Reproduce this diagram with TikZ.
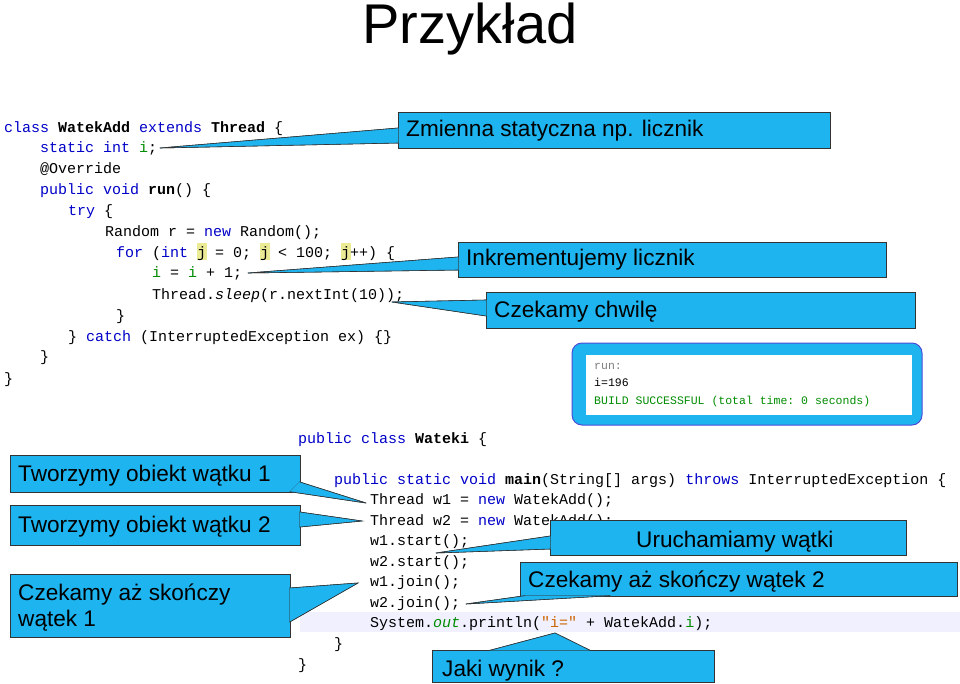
\documentclass[tikz,border=0pt]{standalone}
\usepackage{fontspec}
\setmainfont{Liberation Sans}
\setmonofont{Liberation Mono}
\begin{document}
\begin{tikzpicture}[x=1pt,y=-1pt,
  code/.style={anchor=base west,inner sep=0pt,font=\ttfamily\fontsize{15}{15}\selectfont},
  outtxt/.style={anchor=base west,inner sep=0pt,font=\ttfamily\fontsize{11.5}{11.5}\selectfont},
  box/.style={draw=black!80,fill=callblue,line width=0.6pt,inner sep=0pt},
  ctext/.style={anchor=base west,inner sep=0pt,font=\fontsize{22.6}{25}\selectfont,align=left},
  wedge/.style={fill=callblue,draw=black!80,line width=0.6pt,line join=round}]
\definecolor{callblue}{RGB}{30,180,240}
\definecolor{kw}{RGB}{0,0,200}
\definecolor{gr}{RGB}{0,140,0}
\definecolor{hl}{RGB}{235,235,150}
\useasboundingbox[fill=white] (0,0) rectangle (960,684);
\newcommand{\K}[1]{\textcolor{kw}{#1}}
\newcommand{\G}[1]{\textcolor{gr}{#1}}
% title
\node[font=\fontsize{56}{56}\selectfont,inner sep=0pt,anchor=base] (title) at (470,44) {Przykład};
% highlight band
\fill[blue!6] (300,612) rectangle (960,632);
% code block 1
\node[code] (c1) at (4,133) {\K{class} \textbf{WatekAdd} \K{extends} \textbf{Thread} \{};
\node[code] (c2) at (40,153) {\K{static} \K{int} \G{i};};
\node[code] (c3) at (40,174) {@Override};
\node[code] (c4) at (40,195) {\K{public} \K{void} \textbf{run}() \{};
\node[code] (c5) at (68,216) {\K{try} \{};
\node[code] (c6) at (105,237) {Random r = \K{new} Random();};
\fill[hl] (197,243) rectangle (207,260);
\fill[hl] (260,243) rectangle (270,260);
\fill[hl] (341,243) rectangle (351,260);
\node[code] (c7) at (116,258) {\K{for} (\K{int} j = 0; j < 100; j++) \{};
\node[code] (c8) at (152,278) {\G{i} = \G{i} + 1;};
\node[code] (c9) at (152,299) {Thread.\textit{sleep}(r.nextInt(10));};
\node[code] (c10) at (116,320) {\}};
\node[code] (c11) at (68,341) {\} \K{catch} (InterruptedException ex) \{\}};
\node[code] (c12) at (40,361) {\}};
\node[code] (c13) at (4,383) {\}};
% code block 2
\node[code] (d1) at (298,443) {\K{public} \K{class} \textbf{Wateki} \{};
\node[code] (d2) at (334,484) {\K{public} \K{static} \K{void} \textbf{main}(String[] args) \K{throws} InterruptedException \{};
\node[code] (d3) at (370,504) {Thread w1 = \K{new} WatekAdd();};
\node[code] (d4) at (370,525) {Thread w2 = \K{new} WatekAdd();};
\node[code] (d5) at (370,545) {w1.start();};
\node[code] (d6) at (370,566) {w2.start();};
\node[code] (d7) at (370,586) {w1.join();};
\node[code] (d8) at (370,607) {w2.join();};
\node[code] (d9) at (370,627) {System.\textit{\G{out}}.println(\textcolor{orange!80!black}{"i="} + WatekAdd.\G{i});};
\node[code] (d10) at (334,648) {\}};
\node[code] (d11) at (298,669) {\}};
% output window
\node[draw=kw!70,fill=callblue,rounded corners=10pt,line width=1pt,minimum width=350pt,minimum height=82pt] (win) at (747,384) {};
\node[fill=white,minimum width=326pt,minimum height=60pt,inner sep=0pt] (winin) at (749,385) {};
\node[outtxt,text=gray] (o1) at (594,369) {run:};
\node[outtxt] (o2) at (594,386) {i=196};
\node[outtxt,text=gr] (o3) at (594,404) {BUILD SUCCESSFUL (total time: 0 seconds)};
% callouts
\newcommand{\callout}[9]{%
  \node[box,minimum width=#3pt,minimum height=#4pt,anchor=north west] (#1) at (#2) {};
  \coordinate (#1t) at (#7);
  \draw[wedge] (#5) -- (#1t) -- (#6) -- cycle;
  \fill[callblue] (#5) -- (#1t) -- (#6) -- cycle;
  \draw[black!80,line width=0.6pt] (#5) -- (#1t) -- (#6);
  \node[ctext] at (#8) {#9};}
\callout{k1}{398,112}{432}{36}{398.3,128}{398.3,143}{160,148}{406,137}{Zmienna statyczna np. licznik}
\callout{k2}{458,242}{428}{35}{458.3,257}{458.3,270}{248,273}{466,266}{Inkrementujemy licznik}
\callout{k3}{486,292}{429}{36}{486.3,300}{486.3,316}{392,302}{494,317}{Czekamy chwilę}
\callout{k4}{10,455}{290}{37}{299.7,482}{290,491.7}{366,503}{18,481}{Tworzymy obiekt wątku 1}
\callout{k5}{10,505}{290}{40}{299.7,512}{299.7,527}{362,521}{18,532}{Tworzymy obiekt wątku 2}
\callout{k6}{10,574}{280}{63}{289.7,588}{289.7,622}{358,583}{18,600}{Czekamy aż skończy}
\node[ctext] (k6b) at (18,626) {wątek 1};
\callout{k7}{550,520}{356}{35}{550.3,536}{550.3,549}{436,553}{636,547}{Uruchamiamy wątki}
\callout{k8}{520,562}{437}{34}{525,595.7}{610,595.7}{466,604}{528,587}{Czekamy aż skończy wątek 2}
\callout{k9}{432,650}{282}{32}{490,650.3}{590,650.3}{555,633}{442,676}{Jaki wynik ?}
\end{tikzpicture}
\end{document}
